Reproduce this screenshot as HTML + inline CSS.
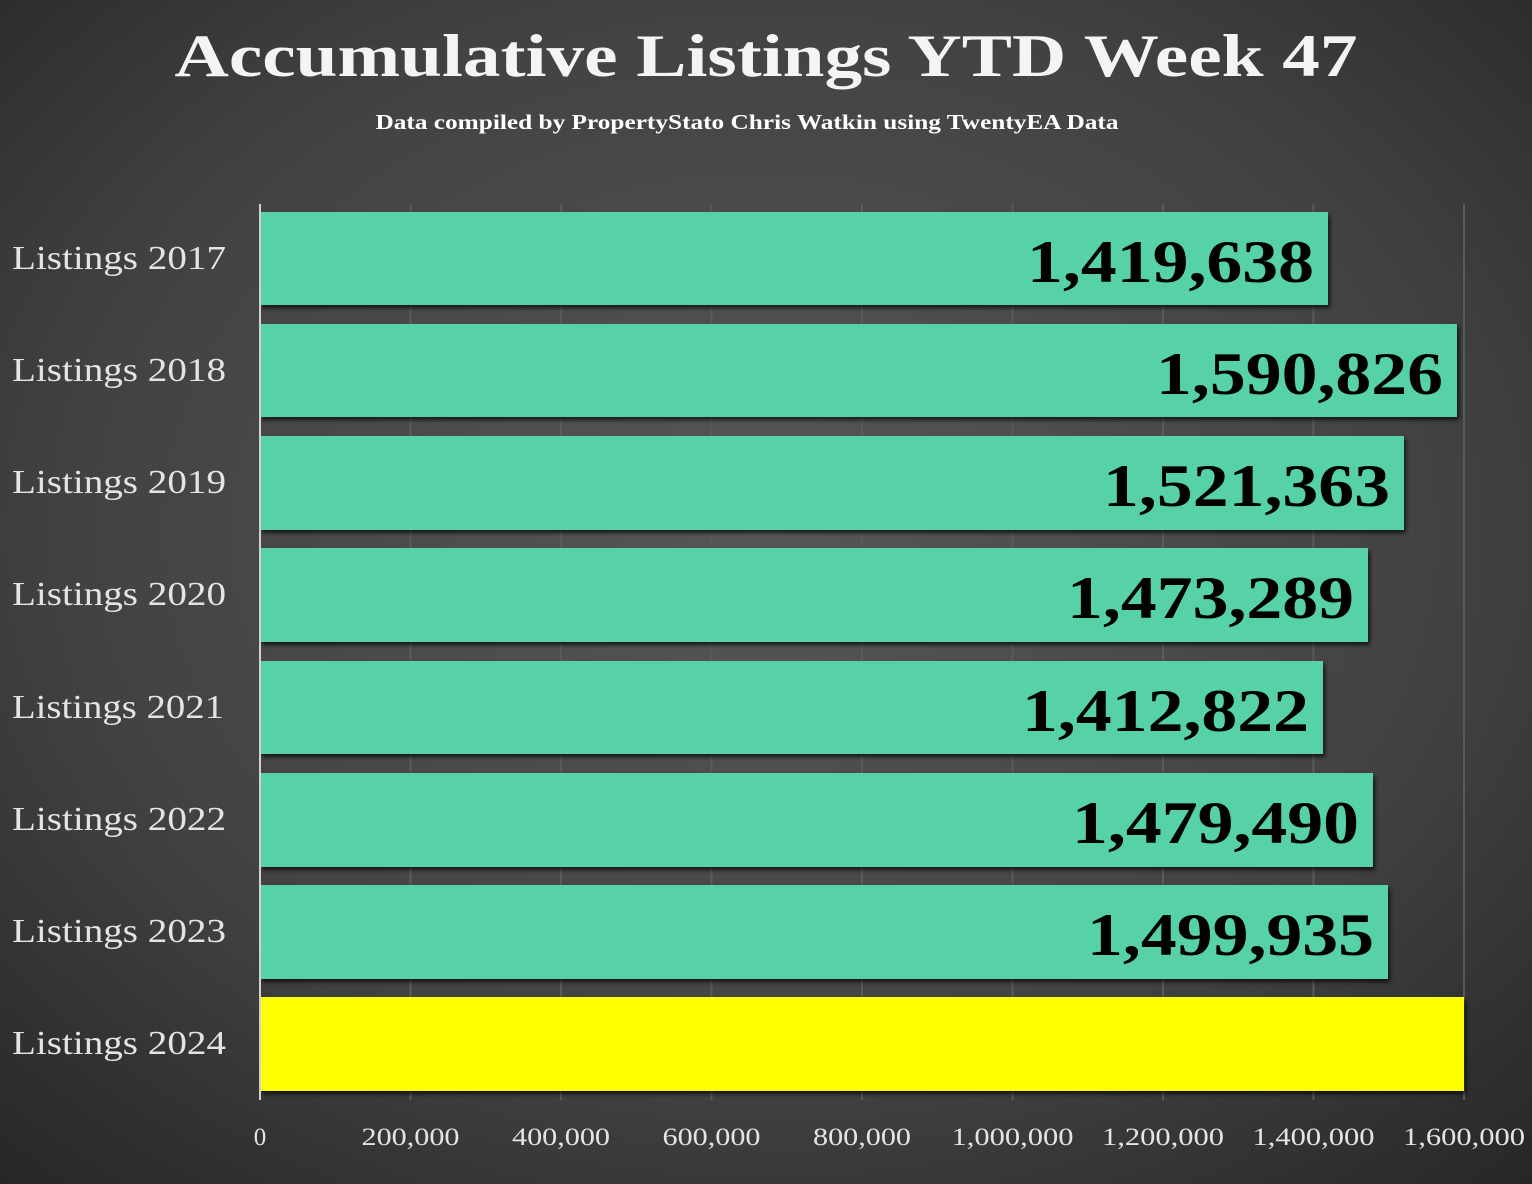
<!DOCTYPE html>
<html><head><style>
html,body{margin:0;padding:0;width:1532px;height:1184px;overflow:hidden;background:#333}
svg{display:block}
text{font-family:"Liberation Serif","DejaVu Serif",serif}
</style></head><body>
<svg width="1532" height="1184" viewBox="0 0 1532 1184" xmlns="http://www.w3.org/2000/svg">
<defs>
<radialGradient id="bg" cx="50%" cy="45%" r="75%">
<stop offset="0" stop-color="#575757"/>
<stop offset="0.6" stop-color="#424242"/>
<stop offset="1" stop-color="#262626"/>
</radialGradient>
<filter id="sh" x="-5%" y="-10%" width="110%" height="130%">
<feDropShadow dx="2" dy="3" stdDeviation="2" flood-color="#000" flood-opacity="0.7"/>
</filter>
</defs>
<rect width="1532" height="1184" fill="url(#bg)"/>
<text x="766" y="76" text-anchor="middle" font-size="60" font-weight="bold" fill="#f4f4f4" textLength="1183" lengthAdjust="spacingAndGlyphs">Accumulative Listings YTD Week 47</text>
<text x="747" y="129" text-anchor="middle" font-size="21" font-weight="bold" fill="#fff" textLength="743" lengthAdjust="spacingAndGlyphs">Data compiled by PropertyStato Chris Watkin using TwentyEA Data</text>
<g stroke="#5a5a5a" stroke-width="2">
<line x1="410.5" y1="204" x2="410.5" y2="1100"/>
<line x1="561" y1="204" x2="561" y2="1100"/>
<line x1="711.5" y1="204" x2="711.5" y2="1100"/>
<line x1="862" y1="204" x2="862" y2="1100"/>
<line x1="1012.5" y1="204" x2="1012.5" y2="1100"/>
<line x1="1163" y1="204" x2="1163" y2="1100"/>
<line x1="1313.5" y1="204" x2="1313.5" y2="1100"/>
<line x1="1464" y1="204" x2="1464" y2="1100"/>
</g>
<g fill="#57d1aa" filter="url(#sh)">
<rect x="260" y="212" width="1068" height="93"/>
<rect x="260" y="324" width="1197" height="93"/>
<rect x="260" y="436" width="1144" height="94"/>
<rect x="260" y="548" width="1108" height="94"/>
<rect x="260" y="661" width="1063" height="93"/>
<rect x="260" y="773" width="1113" height="94"/>
<rect x="260" y="885" width="1128" height="94"/>
<rect x="260" y="997" width="1204" height="94" fill="#ffff00"/>
</g>
<line x1="260" y1="204" x2="260" y2="1100" stroke="#d0d0d0" stroke-width="2"/>
<g font-size="60" font-weight="bold" fill="#000" text-anchor="end">
<text x="1314" y="282" textLength="287" lengthAdjust="spacingAndGlyphs">1,419,638</text>
<text x="1443" y="394" textLength="287" lengthAdjust="spacingAndGlyphs">1,590,826</text>
<text x="1390" y="506" textLength="287" lengthAdjust="spacingAndGlyphs">1,521,363</text>
<text x="1354" y="618" textLength="287" lengthAdjust="spacingAndGlyphs">1,473,289</text>
<text x="1309" y="731" textLength="287" lengthAdjust="spacingAndGlyphs">1,412,822</text>
<text x="1359" y="843" textLength="287" lengthAdjust="spacingAndGlyphs">1,479,490</text>
<text x="1374" y="955" textLength="287" lengthAdjust="spacingAndGlyphs">1,499,935</text>
</g>
<g font-size="34" fill="#e4e4e4">
<text x="12" y="269" textLength="214" lengthAdjust="spacingAndGlyphs">Listings 2017</text>
<text x="12" y="381" textLength="214" lengthAdjust="spacingAndGlyphs">Listings 2018</text>
<text x="12" y="493" textLength="214" lengthAdjust="spacingAndGlyphs">Listings 2019</text>
<text x="12" y="605" textLength="214" lengthAdjust="spacingAndGlyphs">Listings 2020</text>
<text x="12" y="718" textLength="212" lengthAdjust="spacingAndGlyphs">Listings 2021</text>
<text x="12" y="830" textLength="214" lengthAdjust="spacingAndGlyphs">Listings 2022</text>
<text x="12" y="942" textLength="214" lengthAdjust="spacingAndGlyphs">Listings 2023</text>
<text x="12" y="1054" textLength="214" lengthAdjust="spacingAndGlyphs">Listings 2024</text>
</g>
<g font-size="25" fill="#e4e4e4" text-anchor="middle">
<text x="260" y="1145">0</text>
<text x="410.5" y="1145" textLength="98" lengthAdjust="spacingAndGlyphs">200,000</text>
<text x="561" y="1145" textLength="98" lengthAdjust="spacingAndGlyphs">400,000</text>
<text x="711.5" y="1145" textLength="98" lengthAdjust="spacingAndGlyphs">600,000</text>
<text x="862" y="1145" textLength="98" lengthAdjust="spacingAndGlyphs">800,000</text>
<text x="1012.5" y="1145" textLength="122" lengthAdjust="spacingAndGlyphs">1,000,000</text>
<text x="1163" y="1145" textLength="122" lengthAdjust="spacingAndGlyphs">1,200,000</text>
<text x="1313.5" y="1145" textLength="122" lengthAdjust="spacingAndGlyphs">1,400,000</text>
<text x="1464" y="1145" textLength="122" lengthAdjust="spacingAndGlyphs">1,600,000</text>
</g>
</svg>
</body></html>
